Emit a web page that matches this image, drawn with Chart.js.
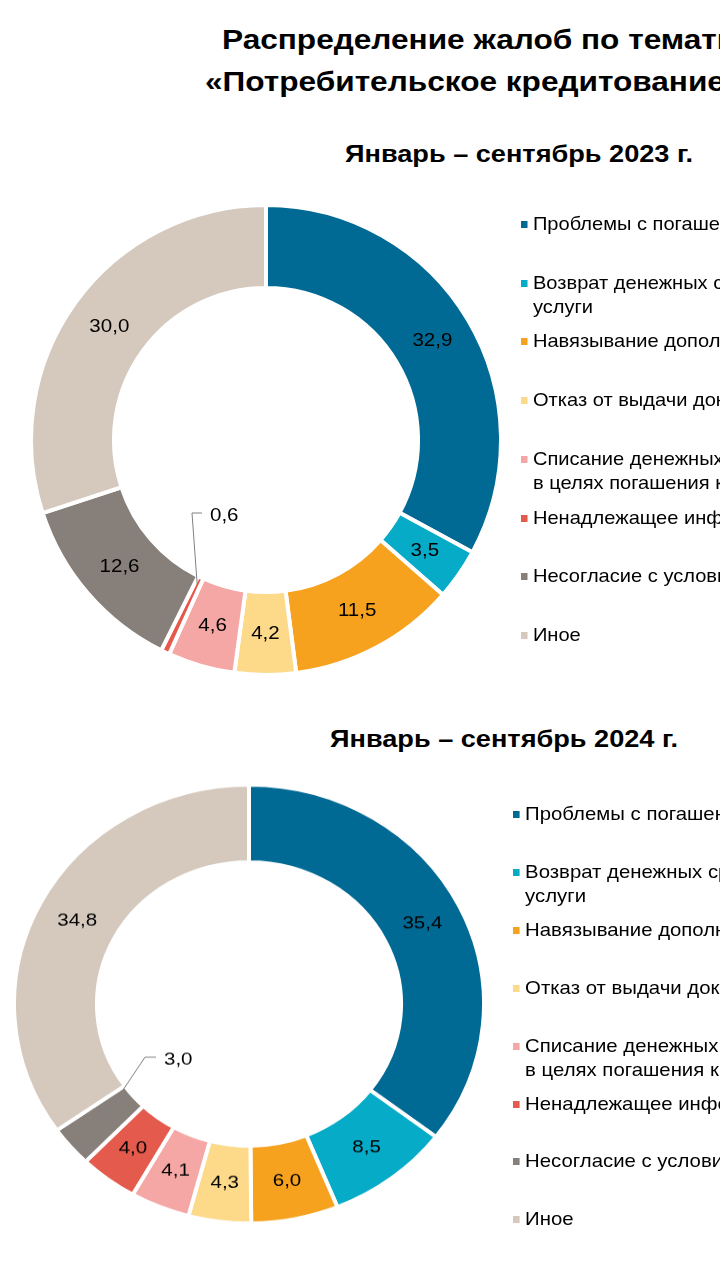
<!DOCTYPE html>
<html lang="ru">
<head>
<meta charset="utf-8">
<script src="https://cdn.jsdelivr.net/npm/chart.js@4.4.1/dist/chart.umd.min.js"></script>
<style>
  html, body { margin: 0; padding: 0; background: #fff; }
  #page { position: relative; width: 720px; height: 1280px; overflow: hidden;
          font-family: "Liberation Sans", Arial, sans-serif; color: #000; }
  .title { position: absolute; white-space: nowrap; font-weight: bold; font-size: 27px; line-height: 1;
           transform: scaleX(1.17); transform-origin: 0 50%; }
  .sub { position: absolute; white-space: nowrap; font-weight: bold; font-size: 23.5px; line-height: 1;
         transform: scaleX(1.155); transform-origin: 0 50%; }
  .chartbox { position: absolute; width: 470px; height: 470px; }
  .legend { position: absolute; white-space: nowrap; font-size: 18.5px; transform-origin: 0 0; }
  .legend .item { position: absolute; left: 0; line-height: 24px; padding-left: 11px; }
  .legend .mark { position: absolute; left: 0; top: 9px; width: 6px; height: 7px; }
</style>
</head>
<body>
<div id="page">
  <div class="title" style="left:222px; top:27px;">Распределение жалоб по тематике</div>
  <div class="title" style="left:205px; top:69px;">«Потребительское кредитование»</div>

  <div class="sub" id="sub0" style="left:345px; top:143px;"></div>
  <div class="chartbox" style="left:31px; top:205px;"><canvas id="chart0" width="470" height="470"></canvas></div>
  <div class="legend" id="legend0" style="left:521px; top:212px; transform:scaleX(1.085);"></div>

  <div class="sub" id="sub1" style="left:330px; top:728px;"></div>
  <div class="chartbox" style="left:14px; top:769px; transform:scaleY(0.933); transform-origin:50% 50%;"><canvas id="chart1" width="470" height="470"></canvas></div>
  <div class="legend" id="legend1" style="left:513px; top:802px; transform:scaleX(1.1);"></div>
</div>

<script>
// categories (each entry = lines of the legend text)
const categories = [
  ['Проблемы с погашением кредита'],
  ['Возврат денежных средств за дополнительные', 'услуги'],
  ['Навязывание дополнительных услуг'],
  ['Отказ от выдачи документов'],
  ['Списание денежных средств со счетов', 'в целях погашения кредита'],
  ['Ненадлежащее информирование'],
  ['Несогласие с условиями договора'],
  ['Иное']
];

const periods = ['Январь – сентябрь 2023 г.', 'Январь – сентябрь 2024 г.'];

// shares, %
const values2023 = [32.9, 3.5, 11.5, 4.2, 4.6, 0.6, 12.6, 30.0];
const values2024 = [35.4, 8.5, 6.0, 4.3, 4.1, 4.0, 3.0, 34.8];

const colors = ['#006a95', '#06abc8', '#f6a21e', '#fdd98a', '#f5a7a5', '#e45a4c', '#87807a', '#d5c9be'];

// text is a bit wide in the original picture
function wideText(ctx, txt, x, y) {
  ctx.save();
  ctx.translate(x, y);
  ctx.scale(1.08, 1);
  ctx.fillText(txt, 0, 0);
  ctx.restore();
}

// draws the numbers on the slices, one small slice gets a leader line
const valueLabels = {
  id: 'valueLabels',
  afterDatasetsDraw(chart, args, opts) {
    const ctx = chart.ctx;
    const meta = chart.getDatasetMeta(0);
    const data = chart.data.datasets[0].data;
    ctx.save();
    ctx.font = '19px "Liberation Sans", Arial, sans-serif';
    ctx.fillStyle = '#000';
    ctx.textBaseline = 'middle';
    meta.data.forEach((arc, i) => {
      const txt = data[i].toFixed(1).replace('.', ',');
      if (i === opts.callout) {
        const p = arc.getProps(['x', 'y', 'startAngle', 'endAngle', 'innerRadius', 'outerRadius']);
        const mid = (p.startAngle + p.endAngle) / 2;
        const r = p.innerRadius + (p.outerRadius - p.innerRadius) * opts.startAt;
        const sx = p.x + Math.cos(mid) * r;
        const sy = p.y + Math.sin(mid) * r;
        const ex = p.x + opts.elbow[0];
        const ey = p.y + opts.elbow[1];
        ctx.strokeStyle = '#808080';
        ctx.lineWidth = 1;
        ctx.beginPath();
        ctx.moveTo(sx, sy);
        ctx.lineTo(ex, ey);
        ctx.lineTo(ex + opts.tail, ey);
        ctx.stroke();
        ctx.textAlign = 'left';
        wideText(ctx, txt, ex + opts.tail + 8, ey + 3);
      } else {
        const c = arc.tooltipPosition();
        ctx.textAlign = 'center';
        wideText(ctx, txt, c.x, c.y);
      }
    });
    ctx.restore();
  }
};

function makeDonut(id, values, callout) {
  return new Chart(document.getElementById(id), {
    type: 'doughnut',
    data: {
      labels: categories.map(c => c.join(' ')),
      datasets: [{
        data: values,
        backgroundColor: colors,
        borderColor: '#ffffff',
        borderWidth: 4,
        borderJoinStyle: 'miter'
      }]
    },
    options: {
      responsive: false,
      animation: false,
      radius: 235,
      cutout: '64.7%',
      plugins: {
        legend: { display: false },
        tooltip: { enabled: false },
        valueLabels: callout
      }
    },
    plugins: [valueLabels]
  });
}

function makeLegend(id, step) {
  const box = document.getElementById(id);
  categories.forEach((lines, i) => {
    const item = document.createElement('div');
    item.className = 'item';
    item.style.top = (i * step) + 'px';
    const mark = document.createElement('span');
    mark.className = 'mark';
    mark.style.background = colors[i];
    item.appendChild(mark);
    item.insertAdjacentHTML('beforeend', lines.join('<br>'));
    box.appendChild(item);
  });
}

document.getElementById('sub0').textContent = periods[0];
document.getElementById('sub1').textContent = periods[1];

makeDonut('chart0', values2023, { callout: 5, startAt: 0.1, elbow: [-74, 73], tail: 10 });
makeDonut('chart1', values2024, { callout: 6, startAt: 0.5, elbow: [-104, 57], tail: 11 });

makeLegend('legend0', 58.7);
makeLegend('legend1', 57.9);
</script>
</body>
</html>
